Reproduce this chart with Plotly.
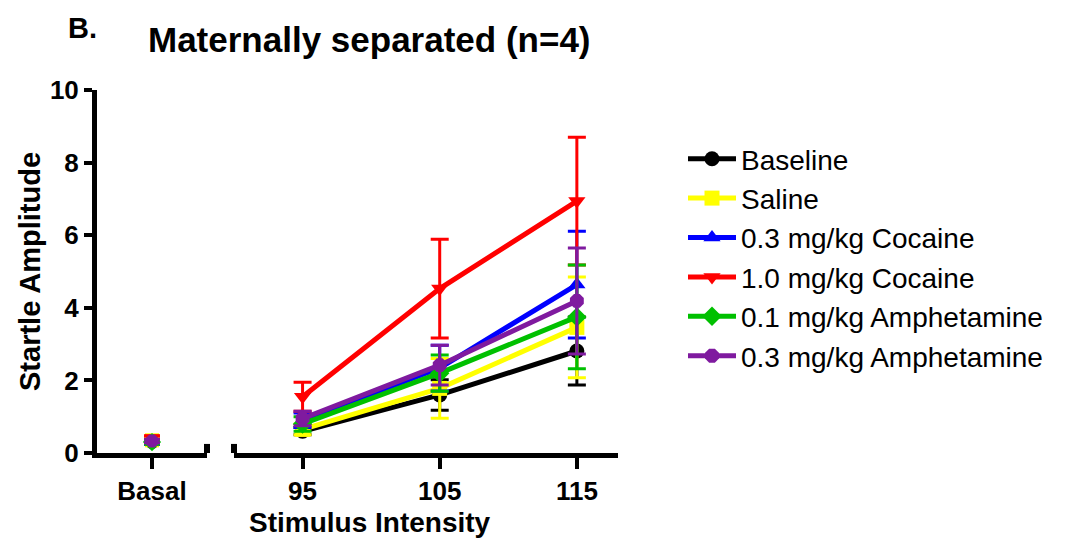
import plotly.graph_objects as go

# ---- data ----
series_names = ["Baseline", "Saline", "0.3 mg/kg Cocaine", "1.0 mg/kg Cocaine",
                "0.1 mg/kg Amphetamine", "0.3 mg/kg Amphetamine"]
colors = ["#000000", "#FFFF00", "#0000FF", "#FF0000", "#00C000", "#7F1A9F"]
symbols = ["circle", "square", "triangle-up", "triangle-down", "diamond", "octagon"]

basal_label = ["Basal"]
intensities = [95, 105, 115]
y_ticks = [0, 2, 4, 6, 8, 10]

basal_mean = [0.30, 0.35, 0.30, 0.42, 0.30, 0.33]
basal_sem = [0.05, 0.05, 0.05, 0.05, 0.05, 0.05]

baseline_mean = [0.60, 1.60, 2.81]
baseline_sem = [0.10, 0.42, 0.94]
saline_mean = [0.65, 1.78, 3.46]
saline_sem = [0.15, 0.82, 1.39]
coc03_mean = [0.90, 2.34, 4.64]
coc03_sem = [0.20, 0.63, 1.47]
coc10_mean = [1.55, 4.53, 6.94]
coc10_sem = [0.40, 1.36, 1.76]
amph01_mean = [0.80, 2.20, 3.75]
amph01_sem = [0.20, 0.50, 1.43]
amph03_mean = [0.95, 2.42, 4.19]
amph03_sem = [0.20, 0.55, 1.46]

means = [baseline_mean, saline_mean, coc03_mean, coc10_mean, amph01_mean, amph03_mean]
sems = [baseline_sem, saline_sem, coc03_sem, coc10_sem, amph01_sem, amph03_sem]

W, H = 1071, 543
def px_x(p):
    return p / W
def px_y(p):
    return (H - p) / H

FONT = "Liberation Sans, Arial, sans-serif"

fig = go.Figure()

for i, name in enumerate(series_names):
    fig.add_trace(go.Scatter(
        x=[0], y=[basal_mean[i]], xaxis="x", yaxis="y",
        mode="markers", name=name, legendgroup=name, showlegend=False,
        marker=dict(symbol=symbols[i], color=colors[i], size=14),
        error_y=dict(type="data", array=[basal_sem[i]], color=colors[i], thickness=3, width=8),
        cliponaxis=False,
    ))
    fig.add_trace(go.Scatter(
        x=intensities, y=means[i], xaxis="x2", yaxis="y",
        mode="lines+markers", name=name, legendgroup=name,
        line=dict(color=colors[i], width=5),
        marker=dict(symbol=symbols[i], color=colors[i], size=15),
        error_y=dict(type="data", array=sems[i], color=colors[i], thickness=3, width=9),
        cliponaxis=False,
    ))

axis_common = dict(showline=True, linecolor="black", linewidth=5, showgrid=False,
                   zeroline=False, ticks="outside", tickcolor="black", tickwidth=4,
                   automargin=False,
                   tickfont=dict(family=FONT, size=26, color="black"))

fig.update_layout(
    template="none",
    width=W, height=H,
    margin=dict(l=0, r=0, t=0, b=0, pad=0, autoexpand=False),
    paper_bgcolor="white", plot_bgcolor="white",
    font=dict(family=FONT, color="black"),
    xaxis=dict(domain=[px_x(97), px_x(207)], range=[-1, 1], anchor="y",
               tickvals=[0], ticktext=["<b>%s</b>" % t for t in basal_label],
               ticklen=11, **axis_common),
    xaxis2=dict(domain=[px_x(234), px_x(618)], range=[90, 118], anchor="y",
                tickvals=intensities, ticktext=["<b>%d</b>" % v for v in intensities],
                ticklen=11, **axis_common),
    yaxis=dict(domain=[px_y(453), px_y(90)], range=[0, 10], anchor="x",
               tickvals=y_ticks, ticktext=["<b>%d</b>" % v for v in y_ticks],
               ticklen=8, **axis_common),
    legend=dict(x=px_x(683), y=px_y(134), xanchor="left", yanchor="top",
                font=dict(family=FONT, size=28, color="black"),
                itemwidth=48,
                bgcolor="rgba(0,0,0,0)", tracegroupgap=0),
    showlegend=True,
)

for ax, side in [("x", 1), ("x2", 0)]:
    fig.add_shape(type="line", xref=f"{ax} domain", yref="y",
                  x0=side, x1=side, y0=-0.25, y1=0.25,
                  line=dict(color="black", width=6))

fig.add_annotation(text="<b>B.</b>", x=px_x(66), y=px_y(28), xref="paper", yref="paper",
                   xanchor="left", yanchor="middle", showarrow=False,
                   font=dict(family=FONT, size=29, color="black"))
fig.add_annotation(text="<b>Maternally separated (n=4)</b>", x=px_x(146), y=px_y(39),
                   xref="paper", yref="paper", xanchor="left", yanchor="middle",
                   showarrow=False, font=dict(family=FONT, size=35, color="black"))
fig.add_annotation(text="<b>Startle Amplitude</b>", x=px_x(30), y=px_y(272),
                   xref="paper", yref="paper", xanchor="center", yanchor="middle",
                   textangle=-90, showarrow=False, font=dict(family=FONT, size=29, color="black"))
fig.add_annotation(text="<b>Stimulus Intensity</b>", x=px_x(370), y=px_y(522),
                   xref="paper", yref="paper", xanchor="center", yanchor="middle",
                   showarrow=False, font=dict(family=FONT, size=28, color="black"))

fig.write_html("out.html")
